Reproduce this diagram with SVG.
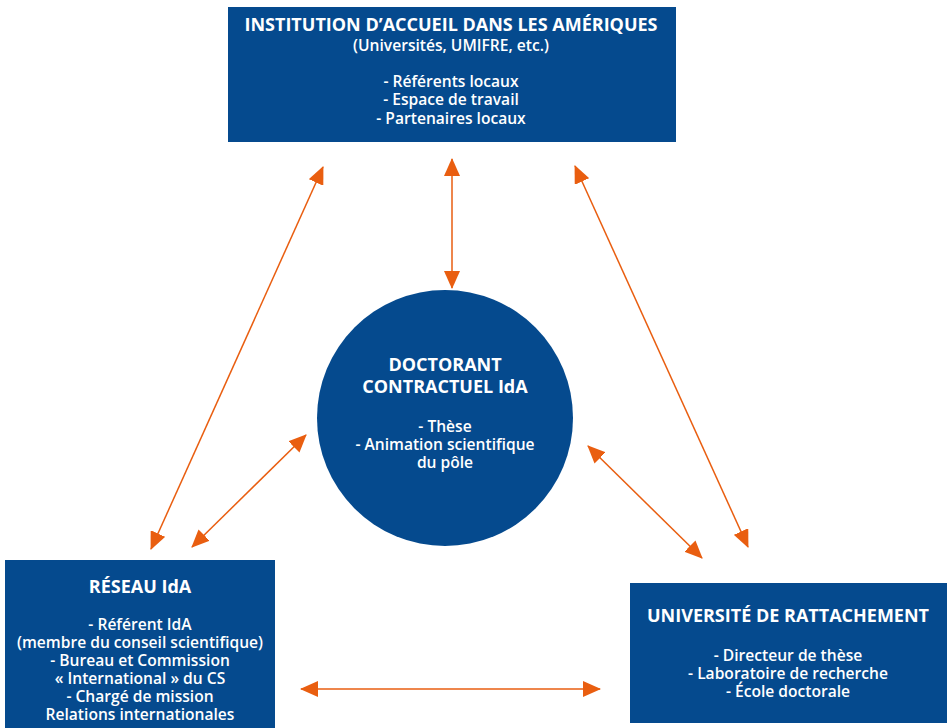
<svg xmlns="http://www.w3.org/2000/svg" width="948" height="728" viewBox="0 0 948 728">
<defs>
<style>
.box{fill:#054a8e}
.t{font-family:"Open Sans","Liberation Sans",sans-serif;fill:#fff;text-anchor:middle}
.h{font-size:18px;font-weight:700}
.b{font-size:15.6px;font-weight:600}
.c{stroke:#e95e10;stroke-width:1.5;fill:none;marker-start:url(#a);marker-end:url(#a)}
</style>
<marker id="a" viewBox="0 0 18 16" refX="17" refY="8" markerWidth="18" markerHeight="16" markerUnits="userSpaceOnUse" orient="auto-start-reverse">
<path d="M0,0 L18,8 L0,16 Z" fill="#e95e10"/>
</marker>
</defs>
<rect width="948" height="728" fill="#fff"/>
<g id="connectors">
<line class="c" x1="452" y1="159" x2="452" y2="288"/>
<line class="c" x1="323" y1="167" x2="151" y2="549"/>
<line class="c" x1="306" y1="435" x2="192" y2="547"/>
<line class="c" x1="575" y1="166" x2="748" y2="547"/>
<line class="c" x1="588" y1="446" x2="702" y2="558"/>
<line class="c" x1="301" y1="689" x2="600" y2="689"/>
</g>
<g id="institution">
<rect class="box" x="228" y="7" width="448" height="135"/>
<text class="t h" x="451" y="31">INSTITUTION D’ACCUEIL DANS LES AMÉRIQUES</text>
<text class="t b" x="451" y="51">(Universités, UMIFRE, etc.)</text>
<text class="t b" x="451" y="87">- Référents locaux</text>
<text class="t b" x="451" y="105">- Espace de travail</text>
<text class="t b" x="451" y="124">- Partenaires locaux</text>
</g>
<g id="doctorant">
<circle class="box" cx="445" cy="418" r="128"/>
<text class="t h" x="445" y="371">DOCTORANT</text>
<text class="t h" x="445" y="393">CONTRACTUEL IdA</text>
<text class="t b" x="445" y="432">- Thèse</text>
<text class="t b" x="445" y="450">- Animation scientifique</text>
<text class="t b" x="445" y="468">du pôle</text>
</g>
<g id="reseau">
<rect class="box" x="5" y="560" width="270" height="168"/>
<text class="t h" x="140" y="593">RÉSEAU IdA</text>
<text class="t b" x="140" y="630">- Référent IdA</text>
<text class="t b" x="140" y="648">(membre du conseil scientifique)</text>
<text class="t b" x="140" y="666">- Bureau et Commission</text>
<text class="t b" x="140" y="684">« International » du CS</text>
<text class="t b" x="140" y="702">- Chargé de mission</text>
<text class="t b" x="140" y="720">Relations internationales</text>
</g>
<g id="universite">
<rect class="box" x="630" y="583" width="317" height="140"/>
<text class="t h" x="788" y="622">UNIVERSITÉ DE RATTACHEMENT</text>
<text class="t b" x="788" y="661">- Directeur de thèse</text>
<text class="t b" x="788" y="679">- Laboratoire de recherche</text>
<text class="t b" x="788" y="697">- École doctorale</text>
</g>
</svg>
